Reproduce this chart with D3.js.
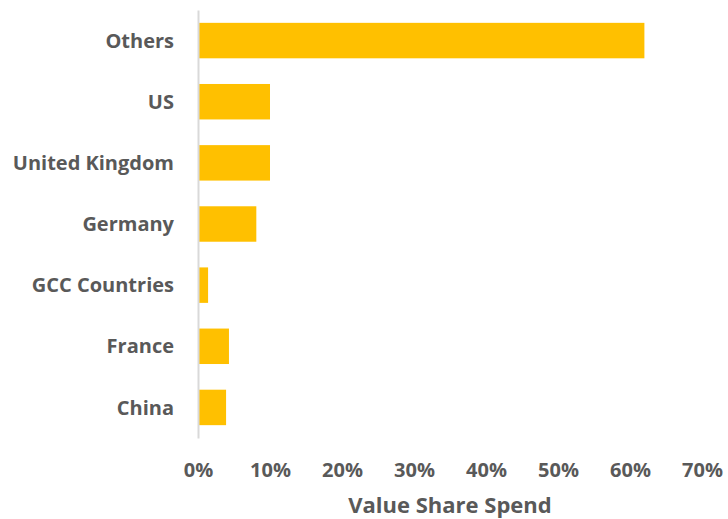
<!DOCTYPE html>
<html>
<head>
<meta charset="utf-8">
<script src="https://cdn.jsdelivr.net/npm/d3@7"></script>
<style>
  body { margin: 0; background: #fff; }
  text { font-family: "Open Sans", Lato, sans-serif; font-weight: bold; fill: #595959; }
</style>
</head>
<body>
<div id="chart"></div>
<script>
// data
const categories = ["Others", "US", "United Kingdom", "Germany", "GCC Countries", "France", "China"];
const shares = [0.62, 0.10, 0.10, 0.081, 0.014, 0.043, 0.039];
const tickValues = [0, 0.1, 0.2, 0.3, 0.4, 0.5, 0.6, 0.7];

const svgWidth = 728;
const svgHeight = 519;

const margin = { top: 10, right: 26, bottom: 81, left: 198 };
const width = svgWidth - margin.left - margin.right;
const height = svgHeight - margin.top - margin.bottom;

const svg = d3.select("#chart")
  .append("svg")
  .attr("width", svgWidth)
  .attr("height", svgHeight);

const chartGroup = svg.append("g")
  .attr("transform", `translate(${margin.left}, ${margin.top})`);

const xScale = d3.scaleLinear()
  .domain([0, 0.7])
  .range([0, width]);

const yScale = d3.scaleBand()
  .domain(categories)
  .range([0, height])
  .paddingInner(0.42)
  .paddingOuter(0.21);

// bars
chartGroup.selectAll("rect.bar")
  .data(categories)
  .enter()
  .append("rect")
  .classed("bar", true)
  .attr("x", 1)
  .attr("y", d => yScale(d))
  .attr("width", (d, i) => xScale(shares[i]) - 1)
  .attr("height", yScale.bandwidth())
  .attr("fill", "#FFC000");

// vertical axis line + category labels
const leftAxis = d3.axisLeft(yScale).tickSize(0).tickPadding(24);
const yAxis = chartGroup.append("g").call(leftAxis);
yAxis.select(".domain").attr("stroke", "#d9d9d9").attr("stroke-width", 2);
yAxis.selectAll("text")
  .style("font-size", "20px")
  .attr("dy", "0.36em");

// bottom tick labels (no axis line)
const bottomAxis = d3.axisBottom(xScale)
  .tickValues(tickValues)
  .tickFormat(d3.format(".0%"))
  .tickSize(0);
const xAxis = chartGroup.append("g")
  .attr("transform", `translate(0, ${height})`)
  .call(bottomAxis);
xAxis.select(".domain").remove();
xAxis.selectAll("text")
  .style("font-size", "20px")
  .attr("y", 39)
  .attr("dy", 0);

// axis title
chartGroup.append("text")
  .attr("x", width / 2)
  .attr("y", height + 75)
  .attr("text-anchor", "middle")
  .style("font-size", "22px")
  .text("Value Share Spend");
</script>
</body>
</html>
